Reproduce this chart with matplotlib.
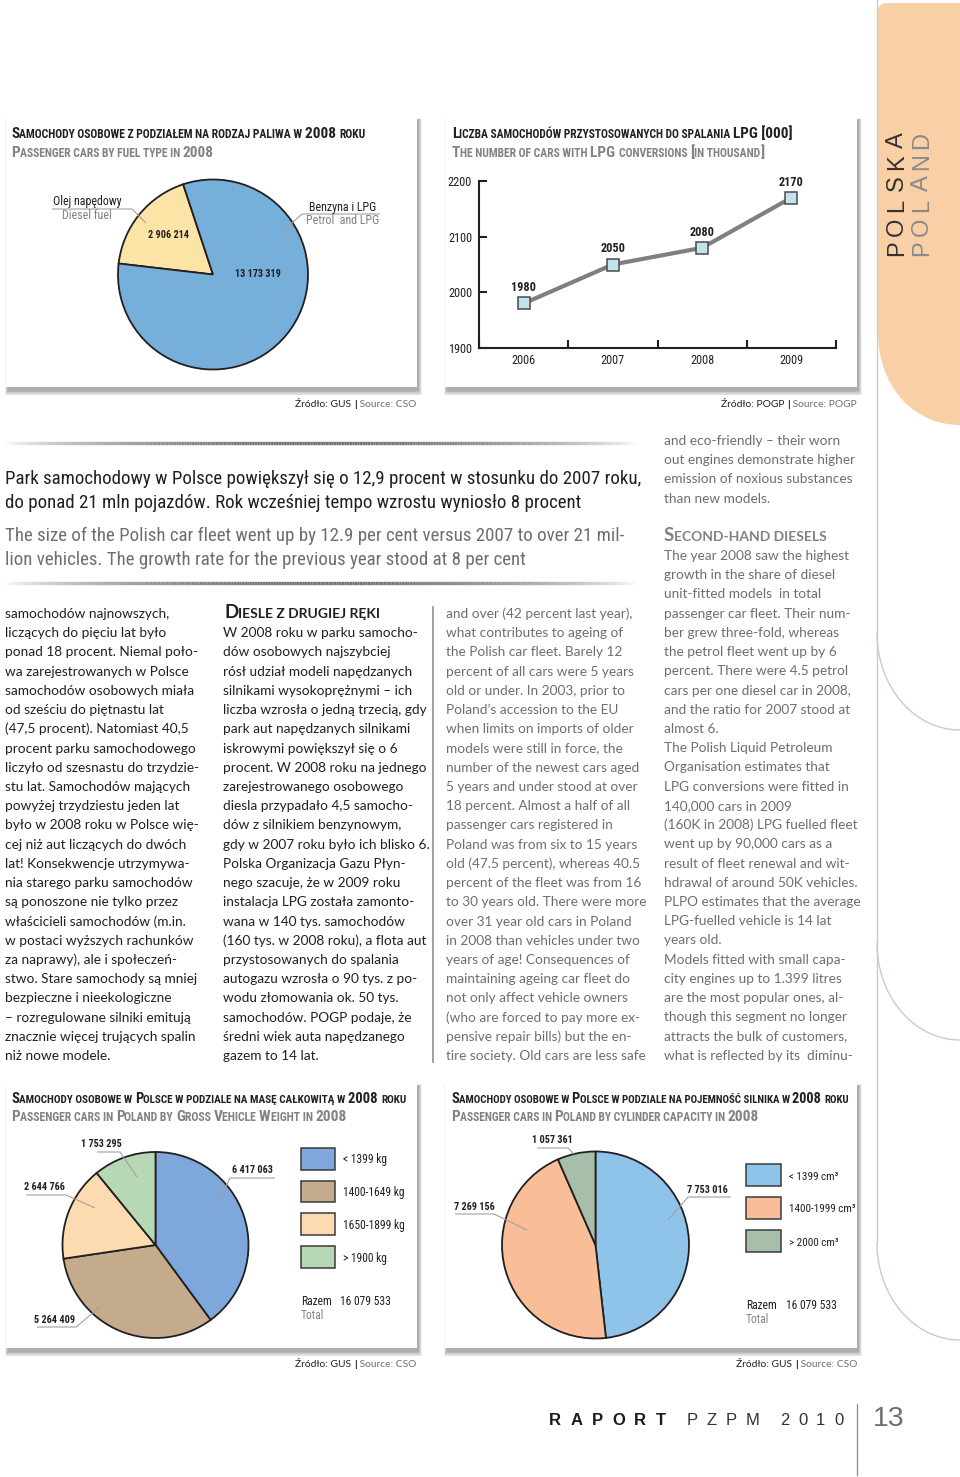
import numpy as np
import matplotlib
matplotlib.use('Agg')
import matplotlib.pyplot as plt
from matplotlib import font_manager as fm
from matplotlib.patches import Rectangle, PathPatch
from matplotlib.path import Path
from matplotlib.collections import LineCollection

# ---------------- data ----------------
fuel_labels_pl = ['Olej napędowy', 'Benzyna i LPG']
fuel_labels_en = ['Diesel fuel', 'Petrol  and LPG']
fuel_values = [2906214, 13173319]
fuel_colors = ['#fce3a6', '#76afd9']

lpg_years = ['2006', '2007', '2008', '2009']
lpg_values = [1980, 2050, 2080, 2170]
lpg_yticks = [1900, 2000, 2100, 2200]

gvw_labels = ['< 1399 kg', '1400-1649 kg', '1650-1899 kg', '> 1900 kg']
gvw_values = [6417063, 5264409, 2644766, 1753295]
gvw_colors = ['#7ea7dc', '#c4ab8c', '#fddbb1', '#b7d8b4']

cyl_labels = ['< 1399 cm³', '1400-1999 cm³', '> 2000 cm³']
cyl_values = [7753016, 7269156, 1057361]
cyl_colors = ['#8fc4ea', '#f9be97', '#a7bfaa']
total_cars = 16079533

title_fuel = ('Samochody osobowe z podziałem na rodzaj paliwa w 2008 roku',
              'Passenger cars by fuel type in 2008')
title_lpg = ('Liczba samochodów przystosowanych do spalania LPG [000]',
             'The number of cars with LPG conversions [in thousand]')
title_gvw = ('Samochody osobowe w Polsce w podziale na masę całkowitą w 2008 roku',
             'Passenger cars in Poland by Gross Vehicle Weight in 2008')
title_cyl = ('Samochody osobowe w Polsce w podziale na pojemność silnika w 2008 roku',
             'Passenger cars in Poland by cylinder capacity in 2008')

headline_pl = ['Park samochodowy w Polsce powiększył się o 12,9 procent w stosunku do 2007 roku,',
               'do ponad 21 mln pojazdów. Rok wcześniej tempo wzrostu wyniosło 8 procent']
headline_en = ['The size of the Polish car fleet went up by 12.9 per cent versus 2007 to over 21 mil-',
               'lion vehicles. The growth rate for the previous year stood at 8 per cent']

col1 = ['samochodów najnowszych,', 'liczących do pięciu lat było', 'ponad 18 procent. Niemal poło-',
        'wa zarejestrowanych w Polsce', 'samochodów osobowych miała', 'od sześciu do piętnastu lat',
        '(47,5 procent). Natomiast 40,5', 'procent parku samochodowego', 'liczyło od szesnastu do trzydzie-',
        'stu lat. Samochodów mających', 'powyżej trzydziestu jeden lat', 'było w 2008 roku w Polsce wię-',
        'cej niż aut liczących do dwóch', 'lat! Konsekwencje utrzymywa-', 'nia starego parku samochodów',
        'są ponoszone nie tylko przez', 'właścicieli samochodów (m.in.', 'w postaci wyższych rachunków',
        'za naprawy), ale i społeczeń-', 'stwo. Stare samochody są mniej', 'bezpieczne i nieekologiczne',
        '– rozregulowane silniki emitują', 'znacznie więcej trujących spalin', 'niż nowe modele.']
col2_head = 'Diesle z drugiej ręki'
col2 = ['W 2008 roku w parku samocho-', 'dów osobowych najszybciej', 'rósł udział modeli napędzanych',
        'silnikami wysokoprężnymi – ich', 'liczba wzrosła o jedną trzecią, gdy', 'park aut napędzanych silnikami',
        'iskrowymi powiększył się o 6', 'procent. W 2008 roku na jednego', 'zarejestrowanego osobowego',
        'diesla przypadało 4,5 samocho-', 'dów z silnikiem benzynowym,', 'gdy w 2007 roku było ich blisko 6.',
        'Polska Organizacja Gazu Płyn-', 'nego szacuje, że w 2009 roku', 'instalacja LPG została zamonto-',
        'wana w 140 tys. samochodów', '(160 tys. w 2008 roku), a flota aut', 'przystosowanych do spalania',
        'autogazu wzrosła o 90 tys. z po-', 'wodu złomowania ok. 50 tys.', 'samochodów. POGP podaje, że',
        'średni wiek auta napędzanego', 'gazem to 14 lat.']
col3 = ['and over (42 percent last year),', 'what contributes to ageing of', 'the Polish car fleet. Barely 12',
        'percent of all cars were 5 years', 'old or under. In 2003, prior to', 'Poland’s accession to the EU',
        'when limits on imports of older', 'models were still in force, the', 'number of the newest cars aged',
        '5 years and under stood at over', '18 percent. Almost a half of all', 'passenger cars registered in',
        'Poland was from six to 15 years', 'old (47.5 percent), whereas 40.5', 'percent of the fleet was from 16',
        'to 30 years old. There were more', 'over 31 year old cars in Poland', 'in 2008 than vehicles under two',
        'years of age! Consequences of', 'maintaining ageing car fleet do', 'not only affect vehicle owners',
        '(who are forced to pay more ex-', 'pensive repair bills) but the en-', 'tire society. Old cars are less safe']
col4_top = ['and eco-friendly – their worn', 'out engines demonstrate higher',
            'emission of noxious substances', 'than new models.']
col4_head = 'Second-hand diesels'
col4 = ['The year 2008 saw the highest', 'growth in the share of diesel', 'unit-fitted models  in total',
        'passenger car fleet. Their num-', 'ber grew three-fold, whereas', 'the petrol fleet went up by 6',
        'percent. There were 4.5 petrol', 'cars per one diesel car in 2008,', 'and the ratio for 2007 stood at',
        'almost 6.', 'The Polish Liquid Petroleum', 'Organisation estimates that',
        'LPG conversions were fitted in', '140,000 cars in 2009', '(160K in 2008) LPG fuelled fleet',
        'went up by 90,000 cars as a', 'result of fleet renewal and wit-', 'hdrawal of around 50K vehicles.',
        'PLPO estimates that the average', 'LPG-fuelled vehicle is 14 lat', 'years old.',
        'Models fitted with small capa-', 'city engines up to 1.399 litres', 'are the most popular ones, al-',
        'though this segment no longer', 'attracts the bulk of customers,', 'what is reflected by its  diminu-']

# ---------------- fonts ----------------
_entries = fm.fontManager.ttflist
_names = {f.name for f in _entries}


def pick(cands, default):
    for c in cands:
        if c in _names:
            return c
    return default


COND = pick(['Liberation Sans Narrow', 'Roboto Condensed', 'Open Sans Condensed',
             'Noto Sans Condensed', 'DejaVu Sans Condensed', 'Arial Narrow'], None)
COND_ST = 'normal'
if COND is None:
    for pref in ['Noto Sans', 'Open Sans', 'DejaVu Sans', 'Roboto']:
        if any(f.name == pref and str(f.stretch) in ('condensed', 'semi-condensed', 'extra-condensed')
               for f in _entries):
            COND, COND_ST = pref, 'condensed'
            break
if COND is None:
    COND = pick(['Roboto', 'Lato'], 'DejaVu Sans')
BODY = pick(['Lato', 'Open Sans', 'Noto Sans'], 'DejaVu Sans')
HELV = pick(['Liberation Sans', 'Roboto', 'Lato'], 'DejaVu Sans')

DARK = '#231f20'
GRAY = '#6d6e71'
TGRAY = '#808285'

# ---------------- figure ----------------
W, H = 960, 1477
fig = plt.figure(figsize=(9.6, 14.77), dpi=100)
fig.patch.set_facecolor('white')
bg = fig.add_axes([0, 0, 1, 1])
bg.set_xlim(0, W); bg.set_ylim(H, 0); bg.axis('off'); bg.set_zorder(-1)
fg = fig.add_axes([0, 0, 1, 1])
fg.set_xlim(0, W); fg.set_ylim(H, 0); fg.axis('off'); fg.set_zorder(10)
R = fig.canvas.get_renderer()


def axrect(x, y, w, h):
    return [x / W, 1 - (y + h) / H, w / W, h / H]


def tw(s, size, family, weight='normal', stretch='normal'):
    t = fg.text(0, 0, s, fontsize=size, family=family, fontweight=weight, fontstretch=stretch)
    w = t.get_window_extent(renderer=R).width
    t.remove()
    return w


def adv(s, size, family, weight='normal', stretch='normal'):
    return tw(s + '|', size, family, weight, stretch) - tw('|', size, family, weight, stretch)


def fitsize(s, target, family, weight='normal', stretch='normal'):
    return 10.0 * target / tw(s, 10.0, family, weight, stretch)


def put(x, y, s, size, color=DARK, family=None, weight='normal', stretch='normal',
        ha='left', va='baseline', **kw):
    return fg.text(x, y, s, fontsize=size, color=color, family=family or BODY,
                   fontweight=weight, fontstretch=stretch, ha=ha, va=va, **kw)


def runs(x, y, parts, ha='left'):
    ws = [adv(p['s'], p['size'], p['family'], p.get('weight', 'normal'), p.get('stretch', 'normal'))
          for p in parts]
    total = sum(ws)
    if ha == 'right':
        x -= total
    elif ha == 'center':
        x -= total / 2
    for p, w in zip(parts, ws):
        put(x, y, p['s'], p['size'], p.get('color', DARK), p['family'],
            p.get('weight', 'normal'), p.get('stretch', 'normal'))
        x += w
    return total


def sc(text, big, family, weight, color, stretch='normal', ratio=0.76):
    parts = []
    cur, cb = '', None
    for ch in text:
        if ch == ' ':
            b = cb if cb is not None else False
        else:
            b = ch.isupper() or ch.isdigit() or ch in '[]'
        if cb is None:
            cb = b
        if b != cb:
            parts.append(dict(s=cur, size=big if cb else big * ratio, family=family,
                              weight=weight, color=color, stretch=stretch))
            cur, cb = '', b
        cur += ch if b else ch.upper()
    parts.append(dict(s=cur, size=big if cb else big * ratio, family=family,
                      weight=weight, color=color, stretch=stretch))
    return parts


def sc_fit(x, y, text, target, family, weight, color, stretch='normal', ratio=0.76):
    p = sc(text, 10.0, family, weight, color, stretch, ratio)
    w = sum(adv(q['s'], q['size'], family, weight, stretch) for q in p)
    runs(x, y, sc(text, 10.0 * target / w, family, weight, color, stretch, ratio))


def panel(x0, y0, x1, y1):
    for k in range(7):
        bg.add_patch(Rectangle((x0 + 1.5 - k * 0.4, y0 + 2.5 - k * 0.2), (x1 - x0) + k * 0.9,
                               (y1 - y0) + 1.5 + k * 0.9, facecolor='black', edgecolor='none',
                               alpha=0.05, zorder=1))
    bg.add_patch(Rectangle((x0, y0), x1 - x0, y1 - y0, facecolor='white', edgecolor='none', zorder=2))


def fmt(v):
    return f'{v:,}'.replace(',', ' ')


LEAD = '#a0a0a0'


def leader(pts):
    xs, ys = zip(*pts)
    fg.plot(xs, ys, color=LEAD, lw=0.8, solid_capstyle='butt')


# ---------------- right decorations ----------------
tab = Path([(878, 12), (878, 3), (887, 3), (960, 3), (960, 425),
            (915, 425), (878, 388), (878, 332), (878, 12), (878, 12)],
           [Path.MOVETO, Path.CURVE3, Path.CURVE3, Path.LINETO, Path.LINETO,
            Path.CURVE4, Path.CURVE4, Path.CURVE4, Path.LINETO, Path.CLOSEPOLY])
bg.add_patch(PathPatch(tab, facecolor='#f9cfa6', edgecolor='none', zorder=2))
bg.plot([877, 877], [0, 1243], color='#c5ccd8', lw=1.0, zorder=3)
tt = np.linspace(0, np.pi / 2, 60)
for y0, y1 in [(633, 730), (943, 1040), (1243, 1340)]:
    bg.plot(960 - 83 * np.cos(tt), y0 + (y1 - y0) * np.sin(tt), color='#c5ccd8', lw=1.0, zorder=3)
for i, ch in enumerate('POLSKA'):
    put(897, 248 - i * 21.5, ch, 17, '#333333', HELV, 'normal', ha='center', va='center', rotation=90)
for i, ch in enumerate('POLAND'):
    put(922, 248 - i * 21.5, ch, 17, '#8a8a8a', HELV, 'normal', ha='center', va='center', rotation=90)

# ---------------- panels ----------------
panel(6, 117, 417, 387)
panel(445, 117, 857, 387)
panel(6, 1083, 417, 1348)
panel(445, 1083, 857, 1348)

# titles
sc_fit(11, 138, title_fuel[0], 356, COND, 'bold', DARK, COND_ST)
sc_fit(11, 157, title_fuel[1], 203, COND, 'bold', TGRAY, COND_ST)
sc_fit(452, 138, title_lpg[0], 342, COND, 'bold', DARK, COND_ST)
sc_fit(452, 157, title_lpg[1], 315, COND, 'bold', TGRAY, COND_ST)
sc_fit(11, 1103, title_gvw[0], 395, COND, 'bold', DARK, COND_ST)
sc_fit(11, 1121, title_gvw[1], 335, COND, 'bold', TGRAY, COND_ST)
sc_fit(451, 1103, title_cyl[0], 399, COND, 'bold', DARK, COND_ST)
sc_fit(451, 1121, title_cyl[1], 309, COND, 'bold', TGRAY, COND_ST)

# sources
SRC = fitsize('Źródło: GUS | Source: CSO', 121, BODY)
for (xr, yb, org, src) in [(416, 407, 'GUS', 'CSO'), (857, 407, 'POGP', 'POGP'),
                           (416, 1367, 'GUS', 'CSO'), (857, 1367, 'GUS', 'CSO')]:
    runs(xr, yb, [dict(s=f'Źródło: {org} ', size=SRC, family=BODY, color=DARK),
                  dict(s='|', size=SRC, family=BODY, color=DARK, weight='bold'),
                  dict(s=f' Source: {src}', size=SRC, family=BODY, color=GRAY)], ha='right')

K = 1.13
NUM = K * fitsize('13 173 319', 41.5, COND, 'bold', COND_ST)
LAB = K * fitsize('Olej napędowy', 61, COND, 'normal', COND_ST)
LEG = 1.08 * fitsize('1400-1649 kg', 57, COND, 'normal', COND_ST)
LEG2 = min(LEG, fitsize('1400-1999 cm³', 66, COND, 'normal', COND_ST))

# ---------------- pie: fuel ----------------
def pie_axes(cx, cy, r):
    a = fig.add_axes(axrect(cx - r, cy - r, 2 * r, 2 * r))
    return a


ax1 = pie_axes(213, 274.5, 95)
ax1.pie(fuel_values, colors=fuel_colors, startangle=108.3, counterclock=True,
        wedgeprops=dict(edgecolor=DARK, linewidth=1.3, clip_on=False))
ax1.set_xlim(-1, 1); ax1.set_ylim(-1, 1)
put(87, 205, fuel_labels_pl[0], LAB, DARK, COND, stretch=COND_ST, ha='center')
put(87, 219, fuel_labels_en[0], LAB, TGRAY, COND, stretch=COND_ST, ha='center')
put(343, 211, fuel_labels_pl[1], LAB, DARK, COND, stretch=COND_ST, ha='center')
put(343, 224, fuel_labels_en[1], LAB, TGRAY, COND, stretch=COND_ST, ha='center')
leader([(52, 209), (132, 209), (146, 223)])
leader([(380, 214), (302, 214), (280, 234)])
put(168, 238, fmt(fuel_values[0]), NUM, DARK, COND, 'bold', COND_ST, ha='center')
put(258, 277, fmt(fuel_values[1]), NUM, DARK, COND, 'bold', COND_ST, ha='center')

# ---------------- line: LPG ----------------
ax2 = fig.add_axes(axrect(479, 181, 357, 167))
xs = np.arange(len(lpg_years)) + 0.5
ax2.plot(xs, lpg_values, color='#7f7f7f', lw=3, marker='s', ms=9, mfc='#bfe3e9',
         mec='#4a4a4a', mew=1.1, clip_on=False, zorder=3)
ax2.set_xlim(0, len(lpg_years)); ax2.set_ylim(lpg_yticks[0], lpg_yticks[-1])
ax2.set_facecolor('none')
for s in ['top', 'right']:
    ax2.spines[s].set_visible(False)
for s in ['left', 'bottom']:
    ax2.spines[s].set_linewidth(1.5); ax2.spines[s].set_color(DARK)
TICK = K * fitsize('2200', 21, COND, 'normal', COND_ST)
ax2.set_yticks(lpg_yticks)
ax2.set_yticklabels([str(v) for v in lpg_yticks])
ax2.tick_params(axis='y', direction='in', length=6, width=1.5, pad=5, labelsize=TICK, colors=DARK)
ax2.set_xticks(np.arange(len(lpg_years) + 1))
ax2.set_xticklabels([])
ax2.set_xticks(xs, minor=True)
ax2.set_xticklabels(lpg_years, minor=True)
ax2.tick_params(axis='x', which='major', direction='in', length=6, width=1.5, colors=DARK)
ax2.tick_params(axis='x', which='minor', length=0, pad=4, labelsize=TICK, colors=DARK)
for lab in ax2.get_yticklabels() + ax2.get_xticklabels(minor=True):
    lab.set_family(COND); lab.set_fontstretch(COND_ST)
for x, v in zip(xs, lpg_values):
    ax2.annotate(str(v), (x, v), xytext=(0, 9), textcoords='offset pixels', ha='center', va='bottom',
                 fontsize=TICK, fontweight='bold', family=COND, fontstretch=COND_ST, color=DARK)

# ---------------- pie: gross vehicle weight ----------------
ax3 = pie_axes(155.5, 1245, 93)
ax3.pie(gvw_values, colors=gvw_colors, startangle=90, counterclock=False,
        wedgeprops=dict(edgecolor=DARK, linewidth=1.3, clip_on=False))
ax3.set_xlim(-1, 1); ax3.set_ylim(-1, 1)
put(252, 1173, fmt(gvw_values[0]), NUM, DARK, COND, 'bold', COND_ST, ha='center')
leader([(275, 1178), (230, 1178), (218, 1203)])
put(55, 1323, fmt(gvw_values[1]), NUM, DARK, COND, 'bold', COND_ST, ha='center')
leader([(37, 1327), (76, 1327), (100, 1307)])
put(44, 1190, fmt(gvw_values[2]), NUM, DARK, COND, 'bold', COND_ST, ha='center')
leader([(26, 1195), (66, 1195), (95, 1208)])
put(101, 1147, fmt(gvw_values[3]), NUM, DARK, COND, 'bold', COND_ST, ha='center')
leader([(97, 1152), (120, 1152), (137, 1177)])
for i, (lab, c) in enumerate(zip(gvw_labels, gvw_colors)):
    y0 = 1148 + i * 32.7
    fg.add_patch(Rectangle((301, y0), 34, 21.5, facecolor=c, edgecolor='#3a3a3a', lw=1.1))
    put(343, y0 + 15.5, lab, LEG, DARK, COND, stretch=COND_ST)
put(301, 1305, 'Razem', LEG, DARK, COND, stretch=COND_ST)
put(340, 1305, fmt(total_cars), LEG, DARK, COND, stretch=COND_ST)
put(301, 1319, 'Total', LEG, TGRAY, COND, stretch=COND_ST)

# ---------------- pie: cylinder capacity ----------------
ax4 = pie_axes(595.5, 1245, 93.5)
ax4.pie(cyl_values, colors=cyl_colors, startangle=90, counterclock=False,
        wedgeprops=dict(edgecolor=DARK, linewidth=1.3, clip_on=False))
ax4.set_xlim(-1, 1); ax4.set_ylim(-1, 1)
put(707, 1193, fmt(cyl_values[0]), NUM, DARK, COND, 'bold', COND_ST, ha='center')
leader([(731, 1197), (688, 1197), (668, 1220)])
put(474, 1210, fmt(cyl_values[1]), NUM, DARK, COND, 'bold', COND_ST, ha='center')
leader([(455, 1214), (494, 1214), (527, 1230)])
put(552, 1143, fmt(cyl_values[2]), NUM, DARK, COND, 'bold', COND_ST, ha='center')
leader([(537, 1148), (568, 1148), (574, 1154)])
for i, (lab, c) in enumerate(zip(cyl_labels, cyl_colors)):
    y0 = 1164 + i * 33
    fg.add_patch(Rectangle((746, y0), 35, 21.5, facecolor=c, edgecolor='#3a3a3a', lw=1.1))
    put(789, y0 + 15.5, lab, LEG2, DARK, COND, stretch=COND_ST)
put(746, 1309, 'Razem', LEG, DARK, COND, stretch=COND_ST)
put(786, 1309, fmt(total_cars), LEG, DARK, COND, stretch=COND_ST)
put(746, 1323, 'Total', LEG, TGRAY, COND, stretch=COND_ST)

# ---------------- headline ----------------
def rule(y, x0=5, x1=635):
    n = 240
    xx = np.linspace(x0, x1, n + 1)
    segs = [[(xx[i], y), (xx[i + 1], y)] for i in range(n)]
    u = ((xx[:-1] + xx[1:]) / 2 - x0) / (x1 - x0)
    a = np.sin(np.pi * u) ** 0.7
    cols = [(0.42, 0.42, 0.42, 0.95 * ai) for ai in a]
    bg.add_collection(LineCollection(segs, colors=cols, linewidths=2.4, zorder=3))


rule(443)
rule(583)
HS = fitsize(headline_pl[0], 631, COND, 'normal', COND_ST)
put(5, 484, headline_pl[0], HS, DARK, COND, stretch=COND_ST)
put(5, 508, headline_pl[1], HS, DARK, COND, stretch=COND_ST)
put(5, 541, headline_en[0], HS, GRAY, COND, stretch=COND_ST)
put(5, 565, headline_en[1], HS, GRAY, COND, stretch=COND_ST)

# ---------------- body columns ----------------
BS = fitsize('number of the newest cars aged', 192, BODY, 'normal')
LH = 19.22
for i, l in enumerate(col1):
    put(5, 618 + i * LH, l, BS, DARK, BODY)
sc_fit(224, 618, col2_head, 156, BODY, 'bold', DARK, ratio=0.74)
for i, l in enumerate(col2):
    put(223, 618 + (i + 1) * LH, l, BS, DARK, BODY)
bg.plot([433, 433], [607, 1062], color='#9a9a9a', lw=1.3, zorder=3)
for i, l in enumerate(col3):
    put(446, 618 + i * LH, l, BS, GRAY, BODY, 'normal')
for i, l in enumerate(col4_top):
    put(664, 445 + i * LH, l, BS, GRAY, BODY, 'normal')
sc_fit(664, 541, col4_head, 163, BODY, 'bold', TGRAY, ratio=0.74)
for i, l in enumerate(col4):
    put(664, 560 + i * LH, l, BS, GRAY, BODY, 'normal')

# ---------------- footer ----------------
FS = 12


def spaced(x, y, s, size, color, family, weight, track):
    for ch in s:
        put(x, y, ch, size, color, family, weight)
        x += adv(ch, size, family, weight) + track


spaced(549, 1425, 'RAPORT', FS, '#1a1a1a', HELV, 'bold', 9.3)
spaced(687, 1425, 'PZPM', FS, '#333333', HELV, 'normal', 8.7)
spaced(780, 1425, '2010', FS, '#333333', HELV, 'normal', 8.7)
bg.plot([857, 857], [1404, 1475], color='#8a8a8a', lw=0.9, zorder=3)
put(873, 1426, '13', 20.5, '#6d6e71', HELV, 'normal')

fig.savefig('out.png', dpi=100, facecolor='white')
